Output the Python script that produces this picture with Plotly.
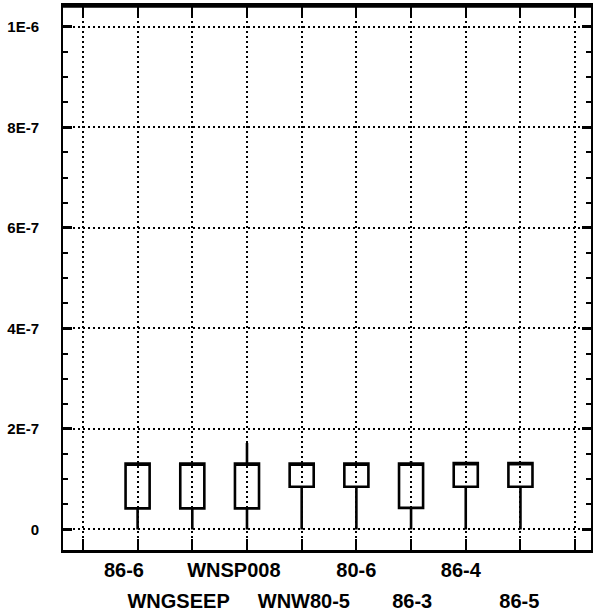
import plotly.graph_objects as go

# Sample identifiers, in plotting order
samples = ["86-6", "WNGSEEP", "WNSP008", "WNW80-5", "80-6", "86-3", "86-4", "86-5"]
positions = [1, 2, 3, 4, 5, 6, 7, 8]

# Box statistics (same units as the y axis)
lower_fence = [0.0, 0.0, 0.0, 0.0, 0.0, 0.0, 0.0, 0.0]
q1_vals = [0.42e-7, 0.42e-7, 0.42e-7, 0.85e-7, 0.85e-7, 0.43e-7, 0.85e-7, 0.85e-7]
median_vals = [1.31e-7, 1.31e-7, 1.31e-7, 1.31e-7, 1.31e-7, 1.31e-7, 1.32e-7, 1.32e-7]
q3_vals = [1.31e-7, 1.31e-7, 1.31e-7, 1.31e-7, 1.31e-7, 1.31e-7, 1.32e-7, 1.32e-7]
upper_fence = [1.31e-7, 1.31e-7, 1.72e-7, 1.31e-7, 1.31e-7, 1.36e-7, 1.32e-7, 1.32e-7]

# Axis ticks
y_tick_vals = [0, 2e-7, 4e-7, 6e-7, 8e-7, 1e-6]
y_tick_text = ["0", "2E-7", "4E-7", "6E-7", "8E-7", "1E-6"]
x_grid_vals = list(range(0, 10))

# horizontal nudge of each sample label relative to its box (axis units)
label_nudge = [-0.25, -0.25, -0.24, 0.04, 0.0, 0.02, -0.09, -0.02]
label_pos = [p + d for p, d in zip(positions, label_nudge)]

# labels alternate between two rows under the axis
row1_idx = [i for i in range(len(samples)) if i % 2 == 0]
row2_idx = [i for i in range(len(samples)) if i % 2 == 1]

label_font = dict(family="Liberation Sans, Arial, sans-serif", size=20, color="black", weight="bold")
y_font = dict(family="Liberation Sans, Arial, sans-serif", size=15, color="black", weight="bold")
grid_dash = "2px,3px"

fig = go.Figure()
fig.add_trace(go.Box(
    x=positions,
    q1=q1_vals,
    median=median_vals,
    q3=q3_vals,
    lowerfence=lower_fence,
    upperfence=upper_fence,
    width=0.44,
    whiskerwidth=0,
    fillcolor="rgba(0,0,0,0)",
    line=dict(color="black", width=2.6),
    marker=dict(color="black"),
    boxpoints=False,
    showlegend=False,
    hoverinfo="skip",
))

# invisible traces to register the label axes
fig.add_trace(go.Scatter(x=[None], y=[None], xaxis="x2", showlegend=False))
fig.add_trace(go.Scatter(x=[None], y=[None], xaxis="x3", showlegend=False))

label_axis = dict(
    overlaying="x",
    matches="x",
    anchor="y",
    side="bottom",
    tickmode="array",
    tickfont=label_font,
    ticks="",
    showline=False,
    showgrid=False,
    zeroline=False,
)

fig.update_layout(
    width=594,
    height=614,
    margin=dict(l=63, r=1, t=6, b=64),
    paper_bgcolor="white",
    plot_bgcolor="white",
    xaxis=dict(
        range=[-0.364, 9.29],
        tickmode="array",
        tickvals=x_grid_vals,
        showticklabels=False,
        ticks="inside",
        ticklen=11,
        tickwidth=2,
        tickcolor="black",
        showline=True,
        linecolor="black",
        linewidth=2.5,
        mirror="ticks",
        showgrid=True,
        gridcolor="black",
        griddash=grid_dash,
        gridwidth=1.5,
        zeroline=False,
    ),
    xaxis2=dict(
        label_axis,
        tickvals=[label_pos[i] for i in row1_idx],
        ticktext=[samples[i] for i in row1_idx],
        ticklabelstandoff=6,
    ),
    xaxis3=dict(
        label_axis,
        tickvals=[label_pos[i] for i in row2_idx],
        ticktext=[samples[i] for i in row2_idx],
        ticklabelstandoff=37,
    ),
    yaxis=dict(
        range=[-0.408e-7, 1.0412e-6],
        tickmode="array",
        tickvals=y_tick_vals,
        ticktext=y_tick_text,
        tickfont=y_font,
        ticks="inside",
        ticklen=9,
        tickwidth=2.5,
        tickcolor="black",
        minor=dict(dtick=5e-8, tick0=0, ticks="inside", ticklen=5, tickwidth=1.5, tickcolor="black", showgrid=False),
        showline=True,
        linecolor="black",
        linewidth=2,
        mirror="ticks",
        showgrid=True,
        gridcolor="black",
        griddash=grid_dash,
        gridwidth=1.5,
        zeroline=False,
        ticklabelstandoff=19,
    ),
    # heavier top edge of the frame
    shapes=[dict(type="line", xref="paper", yref="paper", x0=0, x1=1, y0=1, y1=1,
                 line=dict(color="black", width=3.5), layer="above")],
)

fig.write_html("out.html")
